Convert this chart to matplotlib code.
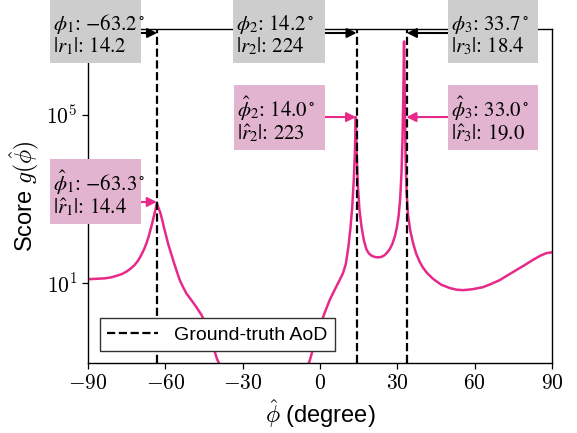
import numpy as np
import matplotlib
matplotlib.use("Agg")
import matplotlib.pyplot as plt
from matplotlib.patches import Rectangle

# score curve g(phi_hat) (log y axis)
phi_deg = [-90, -86.5, -83.5, -81, -79, -77, -75.1, -73.5, -71.9, -70.5, -69.3,
           -68.2, -67.3, -66.5, -65.8, -65.1, -64.5, -63.9, -63.3,
           -62.6, -61.9, -61.2, -60.6, -59.8, -59.0, -58.0, -57.0, -55.8,
           -54.4, -53.1, -51.8, -50.0, -48.0, -46.0, -44, -42, -40, -36, -30,
           -22, -14, -8, -4, -1,
           1.8, 3.8, 5.8, 7.6, 8.9, 10.0, 11.0, 11.8, 12.5, 13.1, 13.5, 13.9,
           14.2, 14.7, 15.3, 16.1, 17.0, 18.0, 19.0, 20.0, 21.2, 22.5, 23.8,
           25.0, 26.0, 27.0, 28.0, 29.0, 29.8, 30.5, 31.1, 31.6, 32.0, 32.3,
           32.6, 32.9, 33.2, 33.6, 34.1, 35.0, 36.1, 37.3, 38.7, 40.0, 41.5,
           43.8, 47.0, 50.3, 53.0, 55.5, 59.0, 63.2, 66.5, 69.7, 73.0, 76.2,
           79.5, 82.6, 85.5, 87.8, 90]
score = [12.3, 12.6, 12.9, 13.6, 14.8, 16.2, 18.6, 21.9, 26.9, 34.7, 46.8,
         64.6, 89.1, 126, 182, 263, 380, 537, 794,
         603, 457, 316, 219, 141, 89.1, 56.2, 35.5, 20.9,
         11.7, 7.94, 5.62, 3.98, 2.69, 1.74, 1.0, 0.398, 0.158, 0.0447, 0.0158,
         0.0089, 0.0126, 0.0355, 0.141, 0.631,
         1.95, 3.98, 7.08, 11.7, 17.0, 28.2, 70.8, 200, 631, 2818, 1.12e4, 8.91e4,
         1.41e4, 1995, 562, 219, 105, 63.1, 50.1, 44.7, 41.7, 40.7, 41.7,
         45.7, 52.5, 63.1, 83.2, 126, 209, 398, 1000, 3981, 2.51e4, 2.51e5,
         5.62e6, 2.0e5, 1.0e4, 1413, 447, 178, 89.1, 50.1, 31.6, 22.9, 17.4,
         12.6, 9.12, 7.59, 6.92, 6.76, 7.08, 7.94, 9.55, 11.7, 15.5, 20.4,
         26.9, 35.5, 44.7, 51.3, 53.7]

# ground truth and estimated paths
true_aod = [-63.2, 14.2, 33.7]
true_gain = [14.2, 224, 18.4]
est_aod = [-63.3, 14.0, 33.0]
est_gain = [14.4, 223, 19.0]
est_arrow_y = [851, 8.9e4, 8.9e4]

x_ticks = [-90, -60, -30, 0, 30, 60, 90]

pink = "#e7298a"
pink_box = "#e2b4cf"
grey_box = "#cdcdcd"

plt.rcParams["font.family"] = ["Liberation Sans", "DejaVu Sans"]
plt.rcParams["mathtext.fontset"] = "cm"

W, H = 577, 433
fig = plt.figure(figsize=(W / 100, H / 100), dpi=100)
ax = fig.add_axes([88 / W, 1 - 363 / H, (552 - 88) / W, (363 - 29.3) / H])


def fpos(px, py):
    # image pixels (top-left origin) -> figure fraction
    return px / W, 1 - py / H


def fmt_gain(v):
    return f"{v:.0f}" if v >= 100 else f"{v:.1f}"


ax.plot(phi_deg, score, color=pink, lw=1.8, zorder=2)
for i, a in enumerate(true_aod):
    ax.axvline(a, color="black", ls="--", lw=1.6, zorder=3,
               label="Ground-truth AoD" if i == 0 else None)

ax.set_yscale("log")
ax.set_xlim(-90, 90)
ax.set_ylim(10 ** -0.905, 10 ** 7.04)
ax.set_xticks(x_ticks, labels=[f"${t}$" for t in x_ticks], fontsize=15.5)
ax.set_yticks([10, 1e5], labels=[r"$10^1$", r"$10^5$"], fontsize=15.5)
ax.minorticks_off()
ax.tick_params(length=4, width=0.9)
for s in ax.spines.values():
    s.set_linewidth(1.0)

ax.set_xlabel(r"$\hat{\phi}$ (degree)", fontsize=17, labelpad=2)
ax.set_ylabel(r"Score $g(\hat{\phi})$", fontsize=17, labelpad=4)

leg = ax.legend(loc="lower left", fontsize=14, fancybox=False, framealpha=1,
                edgecolor="#333333", borderaxespad=0.6, handlelength=2.6)
leg.get_frame().set_linewidth(1.0)

# annotation boxes: (left, top, right, bottom) in image pixels
grey_boxes = [(50, -2, 141, 63), (233, -2, 325, 63), (448, -2, 538, 63)]
pink_boxes = [(50, 159, 141, 224), (234, 85, 325, 150), (448, 85, 538, 150)]
grey_arrow_from = [(141, 33), (325, 33), (448, 33)]
pink_arrow_from = [(141, 202), (325, 117), (448, 117)]
pink_arrow_x = [est_aod[0], est_aod[1], 33.5]

tkw = dict(fontsize=15, family="STIXGeneral", math_fontfamily="stix",
           va="baseline", ha="left")


def draw_box(box, color, line1, line2):
    l, t, r, b = box
    x0, y0 = fpos(l, b)
    fig.patches.append(Rectangle((x0, y0), (r - l) / W, (b - t) / H,
                                 transform=fig.transFigure, facecolor=color,
                                 edgecolor="none", zorder=5))
    fig.text(*fpos(l + 3, t + 32), line1, zorder=6, **tkw)
    fig.text(*fpos(l + 3, t + 54), line2, zorder=6, **tkw)


for k in range(3):
    n = k + 1
    draw_box(grey_boxes[k], grey_box,
             rf"$\phi_{n}$: ${true_aod[k]:.1f}^\circ$",
             rf"$|r_{n}|$: {fmt_gain(true_gain[k])}")
    draw_box(pink_boxes[k], pink_box,
             rf"$\hat{{\phi}}_{n}$: ${est_aod[k]:.1f}^\circ$",
             rf"$|\hat{{r}}_{n}|$: {fmt_gain(est_gain[k])}")
    ax.annotate("", xy=(true_aod[k], 0.989), xycoords=("data", "axes fraction"),
                xytext=fpos(*grey_arrow_from[k]), textcoords="figure fraction",
                arrowprops=dict(arrowstyle="-|>", color="black", lw=1.5,
                                mutation_scale=14, shrinkA=0, shrinkB=0),
                zorder=6, annotation_clip=False)
    ax.annotate("", xy=(pink_arrow_x[k], est_arrow_y[k]), xycoords="data",
                xytext=fpos(*pink_arrow_from[k]), textcoords="figure fraction",
                arrowprops=dict(arrowstyle="-|>", color=pink, lw=1.5,
                                mutation_scale=14, shrinkA=0, shrinkB=0),
                zorder=6, annotation_clip=False)

fig.savefig("out.png", dpi=100)
